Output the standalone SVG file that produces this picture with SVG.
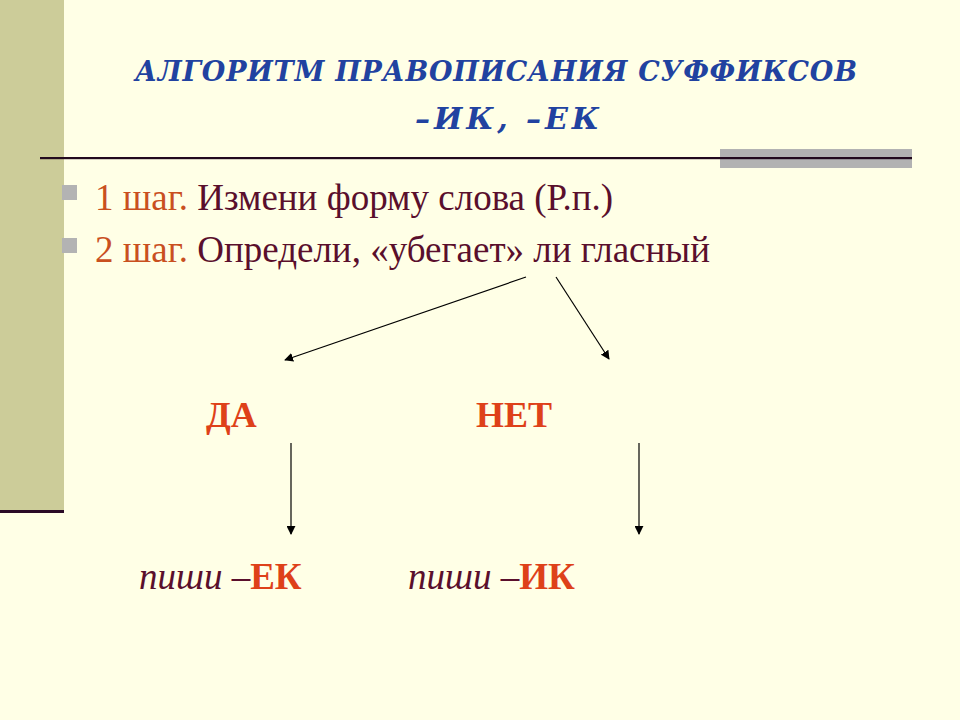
<svg xmlns="http://www.w3.org/2000/svg" width="960" height="720" viewBox="0 0 960 720">
<style>
.title{font-family:"DejaVu Serif","Liberation Serif",serif;font-weight:bold;font-style:italic;font-size:27px;fill:#2142a0}
.t2{font-size:30px}
.body{font-family:"Liberation Serif","Times New Roman",serif;font-size:37px}
.step{fill:#c9501f}
.dark{fill:#5a0f2c}
.ans{font-family:"Liberation Serif","Times New Roman",serif;font-weight:bold;font-size:36px;fill:#de4119}
.write{font-family:"Liberation Serif","Times New Roman",serif;font-size:37px}
.it{font-style:italic;fill:#5a0f2c}
.suf{font-weight:bold;fill:#de4119}
.bullet{fill:#b3b3b3}
.conn{stroke:#000;stroke-width:1.2;fill:none;marker-end:url(#ah)}
</style>
<defs>
<marker id="ah" viewBox="0 0 10 10" refX="9" refY="5" markerWidth="9" markerHeight="9" markerUnits="userSpaceOnUse" orient="auto">
<path d="M0,0 L10,5 L0,10 z" fill="#000"/>
</marker>
</defs>
<rect x="0" y="0" width="960" height="720" fill="#ffffe6"/>
<rect x="0" y="0" width="64" height="510" fill="#cccc99"/>
<rect x="0" y="510" width="64" height="3" fill="#2a0a26"/>
<rect x="720" y="149" width="192" height="19" fill="#b2b2b2"/>
<rect x="40" y="157" width="872" height="2.2" fill="#220a1e"/>

<g id="title">
<text class="title" x="135" y="81" textLength="722" lengthAdjust="spacing">АЛГОРИТМ ПРАВОПИСАНИЯ СУФФИКСОВ</text>
<text class="title t2" x="415" y="129" textLength="184" lengthAdjust="spacing">–ИК, –ЕК</text>
</g>

<g id="step1">
<rect class="bullet" x="62" y="185" width="15" height="15"/>
<text class="body" x="95" y="210"><tspan class="step">1 шаг. </tspan><tspan class="dark">Измени форму слова (Р.п.)</tspan></text>
</g>
<g id="step2">
<rect class="bullet" x="62" y="238" width="15" height="15"/>
<text class="body" x="95" y="262"><tspan class="step">2 шаг. </tspan><tspan class="dark">Определи, «убегает» ли гласный</tspan></text>
</g>

<g id="yes"><text class="ans" x="206" y="427">ДА</text></g>
<g id="no"><text class="ans" x="476" y="427">НЕТ</text></g>

<g id="writeEK"><text class="write" x="139" y="589"><tspan class="it">пиши –</tspan><tspan class="suf">ЕК</tspan></text></g>
<g id="writeIK"><text class="write" x="408" y="589"><tspan class="it">пиши –</tspan><tspan class="suf">ИК</tspan></text></g>

<g id="connectors">
<line class="conn" x1="526" y1="277" x2="285" y2="360"/>
<line class="conn" x1="556" y1="277" x2="609" y2="359"/>
<line class="conn" x1="291" y1="443" x2="291" y2="534"/>
<line class="conn" x1="639" y1="443" x2="639" y2="534"/>
</g>
</svg>
